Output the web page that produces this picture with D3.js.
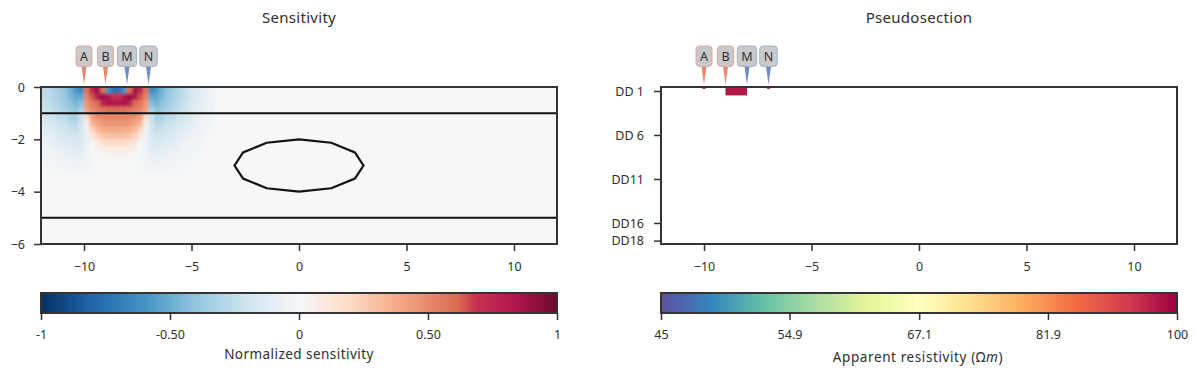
<!DOCTYPE html>
<html>
<head>
<meta charset="utf-8">
<script src="https://d3js.org/d3.v7.min.js"></script>
<style>
  html, body { margin: 0; padding: 0; background: #fff; }
  svg { display: block; }
  text { font-family: "Noto Sans", sans-serif; fill: #2e2e2e; }
  .axis text { font-size: 12.5px; }
  .axis line, .axis path { stroke: #333; stroke-width: 1.5; }
</style>
</head>
<body>
<svg id="chart" width="1197" height="376"></svg>
<script>
const titles = ["Sensitivity", "Pseudosection"];
const xTicks = [-10, -5, 0, 5, 10];
const depthTicks = [0, -2, -4, -6];
const ddTicks = [1, 6, 11, 16, 18];
const ddLabels = ["DD 1", "DD 6", "DD11", "DD16", "DD18"];

const electrodes = ["A", "B", "M", "N"];
const electrodeX = [-10, -9, -8, -7];
const electrodeSign = [1, 1, -1, -1];

const layerDepths = [-1, -5];
const blockX = [3, 2.6, 1.5, 0, -1.5, -2.6, -3, -2.6, -1.5, 0, 1.5, 2.6];
const blockY = [-3, -2.5, -2.13, -2, -2.13, -2.5, -3, -3.5, -3.87, -4, -3.87, -3.5];

const sensTicks = [-1, -0.5, 0, 0.5, 1];
const sensTickLabels = ["-1", "-0.50", "0", "0.50", "1"];
const rhoTicks = [45, 54.9, 67.1, 81.9, 100];
const rhoTickLabels = ["45", "54.9", "67.1", "81.9", "100"];

// colour stops of the sensitivity bar, the red side
const sensStops = [-1, -0.8, -0.6, -0.4, -0.2, 0, 0.2, 0.4, 0.62, 0.68, 0.85, 1];
const sensStopColors = ["#053061", "#2166ac", "#4393c3", "#92c5de", "#d1e5f0", "#f7f7f7",
  "#fddbc7", "#f4a582", "#d9694f", "#c9344f", "#b0134e", "#6b0a2e"];

// sensitivity, in hundredths, cells 0.25 wide and 0.25 deep
const cellX0 = -12;
const cellStep = 0.25;
const sensRows = [
  [-26,-28,-31,-35,-40,-48,-58,-65,58,75,88,60,-60,-75,-75,-60,60,88,75,58,-65,-58,-48,-40,-35,-30,-26,-21,-17,-12,-8,-5],
  [-25,-27,-30,-34,-38,-45,-52,-52,52,64,84,90,82,72,72,82,90,84,64,52,-52,-52,-45,-38,-34,-29,-25,-20,-16,-11,-8,-5],
  [-23,-25,-28,-32,-36,-41,-46,-42,46,55,62,76,84,82,82,84,76,62,55,46,-42,-46,-41,-36,-32,-27,-23,-18,-14,-10,-7,-4],
  [-21,-23,-26,-29,-33,-37,-40,-32,42,50,54,57,60,60,60,60,57,54,50,42,-32,-40,-37,-33,-29,-25,-21,-17,-13,-9,-6,-4],
  [-17,-19,-22,-25,-28,-32,-34,-22,20,42,48,51,52,52,52,52,51,48,42,20,-22,-34,-32,-28,-25,-21,-17,-14,-11,-8,-5,-3],
  [-14,-15,-18,-21,-24,-27,-29,-20,5,34,42,45,46,46,46,46,45,42,34,5,-20,-29,-27,-24,-21,-18,-14,-11,-9,-6,-4,-3],
  [-10,-12,-14,-17,-20,-23,-24,-18,-4,22,33,37,39,39,39,39,37,33,22,-4,-18,-24,-23,-20,-17,-14,-11,-9,-7,-5,-3,-2],
  [-8,-9,-11,-14,-17,-19,-20,-16,-6,10,22,27,30,30,30,30,27,22,10,-6,-16,-20,-19,-17,-14,-11,-9,-7,-5,-4,-2,-1],
  [-6,-7,-9,-11,-13,-15,-16,-13,-7,2,11,16,20,20,20,20,16,11,2,-7,-13,-16,-15,-13,-11,-9,-7,-5,-4,-3,-2,-1],
  [-4,-5,-7,-8,-10,-11,-12,-11,-6,-1,4,7,9,9,9,9,7,4,-1,-6,-11,-12,-11,-10,-8,-7,-5,-4,-3,-2,-1,-1],
  [-3,-4,-5,-6,-7,-8,-9,-8,-5,-2,0,2,3,3,3,3,2,0,-2,-5,-8,-9,-8,-7,-6,-5,-4,-3,-2,-1,-1,0],
  [-2,-2,-3,-4,-5,-6,-6,-5,-4,-2,-1,0,1,1,1,1,0,-1,-2,-4,-5,-6,-6,-5,-4,-3,-2,-2,-1,-1,0,0],
  [-1,-1,-2,-2,-3,-3,-3,-3,-2,-1,-1,0,0,0,0,0,0,-1,-1,-2,-3,-3,-3,-3,-2,-2,-1,-1,-1,0,0,0],
  [0,0,-1,-1,-1,-1,-1,-1,-1,-1,0,0,0,0,0,0,0,0,-1,-1,-1,-1,-1,-1,-1,-1,0,0,0,0,0,0]
];

// pseudosection cells: x start, x end, row bottom, apparent resistivity
const pseudoX0 = [-10.07, -9, -7.07];
const pseudoX1 = [-9.93, -8, -6.93];
const pseudoRowEnd = [0.75, 1.5, 0.75];
const pseudoRho = [100, 97, 100];

const svg = d3.select("#chart");
const defs = svg.append("defs");

const spectral = d3.piecewise(d3.interpolateRgb, d3.schemeSpectral[11].slice().reverse());
const sensColor = d3.scaleLinear().domain(sensStops).range(sensStopColors);
const rhoScale = d3.scaleLog().domain([45, 100]).range([0, 1]);
const rhoColor = v => spectral(rhoScale(v));

const plotTop = 87, plotBottom = 244, barTop = 293, barBottom = 313;
const panels = [{ left: 41, right: 557 }, { left: 661, right: 1177 }];

defs.append("filter").attr("id", "soft")
  .append("feGaussianBlur").attr("stdDeviation", 1.6);

panels.forEach((p, i) => {
  p.x = d3.scaleLinear().domain([-12, 12]).range([p.left, p.right]);
  defs.append("clipPath").attr("id", `clip${i}`)
    .append("rect")
    .attr("x", p.left).attr("y", plotTop)
    .attr("width", p.right - p.left).attr("height", plotBottom - plotTop);

  svg.append("text")
    .attr("x", (p.left + p.right) / 2).attr("y", 23)
    .attr("text-anchor", "middle")
    .style("font-size", "15px").style("letter-spacing", "0.3px")
    .text(titles[i]);
});

// left: sensitivity
const sens = panels[0];
const depthY = d3.scaleLinear().domain([0, -6]).range([plotTop, plotBottom]);
const sensG = svg.append("g").attr("clip-path", "url(#clip0)");
sensG.append("rect")
  .attr("x", sens.left).attr("y", plotTop)
  .attr("width", sens.right - sens.left).attr("height", plotBottom - plotTop)
  .attr("fill", sensColor(0));

const sensCells = sensRows.flatMap((row, r) => row.map((v, c) => ({ r, c, v: v / 100 })));
function drawCells(g) {
  g.selectAll("rect")
    .data(sensCells)
    .join("rect")
    .attr("x", d => sens.x(cellX0 + d.c * cellStep))
    .attr("y", d => depthY(-d.r * cellStep))
    .attr("width", sens.x(cellStep) - sens.x(0) + 0.5)
    .attr("height", depthY(0) - depthY(cellStep) + 0.5)
    .attr("fill", d => sensColor(d.v));
}
sensG.append("g").call(drawCells);
sensG.append("g").attr("filter", "url(#soft)").call(drawCells);

layerDepths.forEach(d => {
  sensG.append("line")
    .attr("x1", sens.left).attr("x2", sens.right)
    .attr("y1", depthY(d)).attr("y2", depthY(d))
    .attr("stroke", "#111").attr("stroke-width", 2);
});

const blockLine = d3.line().x(d => sens.x(d[0])).y(d => depthY(d[1])).curve(d3.curveLinearClosed);
sensG.append("path")
  .attr("d", blockLine(d3.zip(blockX, blockY)))
  .attr("fill", "none").attr("stroke", "#111").attr("stroke-width", 2.2);

// right: pseudosection
const pseudo = panels[1];
const ddY = d3.scaleLinear().domain([1, 18]).range([91, 240.6]);
svg.append("g").attr("clip-path", "url(#clip1)")
  .selectAll("rect")
  .data(d3.range(pseudoRho.length))
  .join("rect")
  .attr("x", i => pseudo.x(pseudoX0[i]))
  .attr("y", ddY(0.5))
  .attr("width", i => pseudo.x(pseudoX1[i]) - pseudo.x(pseudoX0[i]))
  .attr("height", i => ddY(pseudoRowEnd[i]) - ddY(0.5))
  .attr("fill", i => rhoColor(pseudoRho[i]));

// axes and frames
panels.forEach((p, i) => {
  svg.append("rect")
    .attr("x", p.left).attr("y", plotTop)
    .attr("width", p.right - p.left).attr("height", plotBottom - plotTop)
    .attr("fill", "none").attr("stroke", "#333").attr("stroke-width", 2);

  svg.append("g").attr("class", "axis")
    .attr("transform", `translate(0,${plotBottom})`)
    .call(d3.axisBottom(p.x).tickValues(xTicks).tickSize(7).tickPadding(11))
    .call(g => g.select(".domain").remove());

  const yAxis = i === 0
    ? d3.axisLeft(depthY).tickValues(depthTicks).tickFormat(d3.format("d")).tickSize(7).tickPadding(9)
    : d3.axisLeft(ddY).tickValues(ddTicks).tickFormat((d, k) => ddLabels[k]).tickSize(7).tickPadding(10);
  svg.append("g").attr("class", "axis")
    .attr("transform", `translate(${p.left},0)`)
    .call(yAxis)
    .call(g => g.select(".domain").remove());
});

// colorbars
const barDefs = [
  { scale: d3.scaleLinear().domain([-1, 1]), color: sensColor, ticks: sensTicks, labels: sensTickLabels },
  { scale: d3.scaleLog().domain([45, 100]), color: rhoColor, ticks: rhoTicks, labels: rhoTickLabels }
];
barDefs.forEach((b, i) => {
  const p = panels[i];
  b.scale.range([p.left, p.right]);
  const grad = defs.append("linearGradient").attr("id", `bar${i}`);
  d3.range(0, 1.0001, 0.01).forEach(t => {
    grad.append("stop")
      .attr("offset", t)
      .attr("stop-color", b.color(b.scale.invert(p.left + t * (p.right - p.left))));
  });
  svg.append("rect")
    .attr("x", p.left).attr("y", barTop)
    .attr("width", p.right - p.left).attr("height", barBottom - barTop)
    .attr("fill", `url(#bar${i})`)
    .attr("stroke", "#333").attr("stroke-width", 2);
  svg.append("g").attr("class", "axis")
    .attr("transform", `translate(0,${barBottom})`)
    .call(d3.axisBottom(b.scale).tickValues(b.ticks)
      .tickFormat((d, k) => b.labels[k]).tickSize(7).tickPadding(10))
    .call(g => g.select(".domain").remove());
});

svg.append("text")
  .attr("x", 299).attr("y", 359).attr("text-anchor", "middle")
  .style("font-size", "13.5px").style("letter-spacing", "0.45px")
  .text("Normalized sensitivity");
const rhoLabel = svg.append("text")
  .attr("x", 918).attr("y", 362).attr("text-anchor", "middle")
  .style("font-size", "13.5px").style("letter-spacing", "0.6px");
rhoLabel.append("tspan").text("Apparent resistivity (Ω");
rhoLabel.append("tspan").style("font-style", "italic").text("m");
rhoLabel.append("tspan").text(")");

// electrode pins, same on both panels
panels.forEach(p => {
  electrodes.forEach((name, i) => {
    const cx = p.x(electrodeX[i]);
    const fillColor = electrodeSign[i] > 0 ? "#e9866e" : "#6e8fbe";
    const edgeColor = electrodeSign[i] > 0 ? "#dca79c" : "#a3b2c8";
    const g = svg.append("g");
    g.append("path")
      .attr("d", d3.line()([[cx - 2.6, 66], [cx + 2.6, 66], [cx, 84.5]]))
      .attr("fill", fillColor);
    const box = g.append("rect")
      .attr("y", 46).attr("height", 20.5).attr("rx", 3.5)
      .attr("fill", "#c9c9cc").attr("stroke", edgeColor).attr("stroke-width", 1);
    const label = g.append("text")
      .attr("x", cx).attr("y", 60.5).attr("text-anchor", "middle")
      .style("font-size", "12.5px")
      .text(name);
    const w = label.node().getBBox().width + 8;
    box.attr("x", cx - w / 2).attr("width", w);
  });
});
</script>
</body>
</html>
